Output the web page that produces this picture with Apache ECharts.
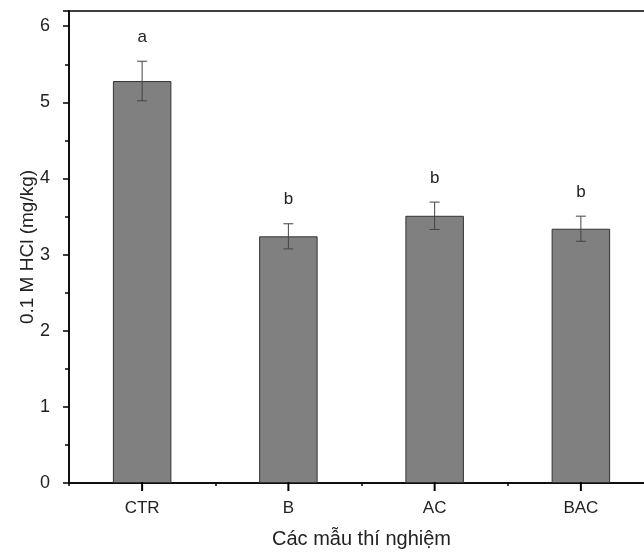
<!DOCTYPE html>
<html>
  <head>
    <meta charset="utf-8" />
    <title>0.1 M HCl</title>
    <script src="https://cdn.jsdelivr.net/npm/echarts@6/dist/echarts.min.js"></script>
    <style>
      html, body { margin: 0; padding: 0; background: #fff; }
      #chart { width: 644px; height: 559px; }
    </style>
  </head>
  <body>
    <div id="chart"></div>
    <script type="text/javascript">
      // du lieu doc tu hinh
      var categories = ["CTR", "B", "AC", "BAC"];
      var means = [5.28, 3.24, 3.51, 3.34];
      var errors = [0.26, 0.165, 0.18, 0.165];
      var letters = ["a", "b", "b", "b"];
      var yTicks = [0, 1, 2, 3, 4, 5, 6];

      var font = "Liberation Sans, Arial, sans-serif";

      var errData = [];
      for (var i = 0; i < categories.length; i++) {
        errData.push([i, means[i] - errors[i], means[i] + errors[i], letters[i]]);
      }

      var chart = echarts.init(document.getElementById("chart"));
      var option = {
        animation: false,
        grid: {
          left: 69,
          width: 585,
          top: 11,
          bottom: 76,
          outerBoundsMode: "none",
          show: true,
          borderColor: "#000",
          borderWidth: 1.5,
          backgroundColor: "transparent",
        },
        xAxis: {
          type: "category",
          data: categories,
          name: "Các mẫu thí nghiệm",
          nameLocation: "middle",
          nameGap: 46,
          nameMoveOverlap: false,
          nameTextStyle: { fontFamily: font, fontSize: 20, color: "#222" },
          axisLine: { show: true, lineStyle: { color: "#000", width: 1.5 } },
          axisTick: { show: true, interval: 0, length: 3, lineStyle: { color: "#000", width: 1.5 } },
          axisLabel: { fontFamily: font, fontSize: 17, color: "#222", margin: 17 },
        },
        yAxis: {
          type: "value",
          min: 0,
          max: 6.2,
          interval: 1,
          name: "0.1 M HCl (mg/kg)",
          nameLocation: "middle",
          nameGap: 32,
          nameMoveOverlap: false,
          nameTextStyle: { fontFamily: font, fontSize: 19, color: "#222" },
          splitLine: { show: false },
          axisLine: { show: true, lineStyle: { color: "#000", width: 1.5 } },
          axisTick: { show: true, length: 6, lineStyle: { color: "#000", width: 1.5 } },
          minorTick: { show: true, splitNumber: 2, length: 4, lineStyle: { color: "#000", width: 1.5 } },
          axisLabel: {
            fontFamily: font,
            fontSize: 18,
            color: "#222",
            margin: 19,
            formatter: function (v) {
              return yTicks.indexOf(v) >= 0 ? String(v) : "";
            },
          },
        },
        series: [
          {
            type: "bar",
            data: means,
            barWidth: "40%",
            itemStyle: { color: "#808080", borderColor: "#333", borderWidth: 1 },
          },
          {
            type: "custom",
            data: errData,
            z: 5,
            clip: false,
            renderItem: function (params, api) {
              var x = api.value(0);
              var lo = api.coord([x, api.value(1)]);
              var hi = api.coord([x, api.value(2)]);
              var base = api.coord([x, 0]);
              var cap = 5;
              var st = { stroke: "#444", lineWidth: 1 };
              return {
                type: "group",
                children: [
                  { type: "line", shape: { x1: hi[0], y1: hi[1], x2: lo[0], y2: lo[1] }, style: st },
                  { type: "line", shape: { x1: hi[0] - cap, y1: hi[1], x2: hi[0] + cap, y2: hi[1] }, style: st },
                  { type: "line", shape: { x1: lo[0] - cap, y1: lo[1], x2: lo[0] + cap, y2: lo[1] }, style: st },
                  { type: "rect", shape: { x: base[0] - 1, y: base[1] - 1, width: 2, height: 9 }, style: { fill: "#000" } },
                  {
                    type: "text",
                    x: hi[0],
                    y: hi[1] - 24,
                    style: {
                      text: api.value(3),
                      fontFamily: font,
                      fontSize: 17,
                      fill: "#222",
                      align: "center",
                      verticalAlign: "middle",
                    },
                  },
                ],
              };
            },
          },
        ],
      };
      chart.setOption(option);
    </script>
  </body>
</html>
